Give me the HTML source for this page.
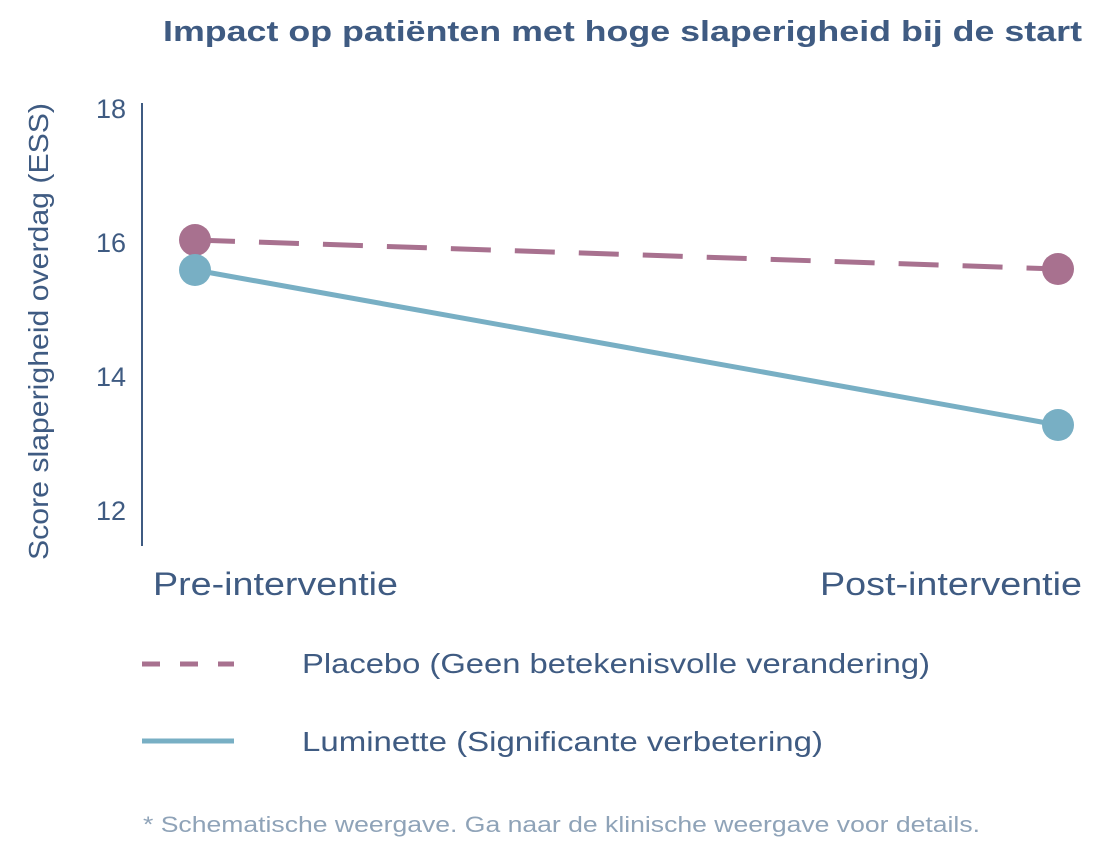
<!DOCTYPE html>
<html><head><meta charset="utf-8"><style>
html,body{margin:0;padding:0;background:#fff;}
svg{display:block;}
text{font-family:"Liberation Sans","DejaVu Sans",sans-serif;}
</style></head><body>
<svg width="1104" height="856" viewBox="0 0 1104 856" xmlns="http://www.w3.org/2000/svg">
<text x="163" y="41" font-size="29" font-weight="bold" fill="#3f5b82" textLength="919" lengthAdjust="spacingAndGlyphs">Impact op patiënten met hoge slaperigheid bij de start</text>
<line x1="142" y1="103" x2="142" y2="546" stroke="#3f5b82" stroke-width="2"/>
<g font-size="27" fill="#3f5b82" text-anchor="end">
<text x="126" y="118">18</text>
<text x="126" y="252">16</text>
<text x="126" y="386">14</text>
<text x="126" y="520">12</text>
</g>
<text transform="translate(48,560) rotate(-90)" font-size="28" fill="#3f5b82" textLength="457" lengthAdjust="spacingAndGlyphs">Score slaperigheid overdag (ESS)</text>
<line x1="195" y1="240" x2="1058" y2="269" stroke="#a8718f" stroke-width="5" stroke-dasharray="40,24"/>
<line x1="195" y1="270" x2="1058" y2="425" stroke="#78afc4" stroke-width="5"/>
<circle cx="195" cy="240" r="16" fill="#a8718f"/>
<circle cx="1058" cy="269" r="16" fill="#a8718f"/>
<circle cx="195" cy="270" r="16" fill="#78afc4"/>
<circle cx="1058" cy="425" r="16" fill="#78afc4"/>
<text x="153" y="595" font-size="32" fill="#3f5b82" textLength="245" lengthAdjust="spacingAndGlyphs">Pre-interventie</text>
<text x="820" y="595" font-size="32" fill="#3f5b82" textLength="262" lengthAdjust="spacingAndGlyphs">Post-interventie</text>
<line x1="142" y1="664" x2="234" y2="664" stroke="#a8718f" stroke-width="5" stroke-dasharray="18,20"/>
<text x="302" y="673" font-size="28" fill="#3f5b82" textLength="628" lengthAdjust="spacingAndGlyphs">Placebo (Geen betekenisvolle verandering)</text>
<line x1="142" y1="741" x2="234" y2="741" stroke="#78afc4" stroke-width="5"/>
<text x="302" y="751" font-size="28" fill="#3f5b82" textLength="521" lengthAdjust="spacingAndGlyphs">Luminette (Significante verbetering)</text>
<text x="143" y="832" font-size="22" fill="#8fa3b8" textLength="837" lengthAdjust="spacingAndGlyphs">* Schematische weergave. Ga naar de klinische weergave voor details.</text>
</svg>
</body></html>
